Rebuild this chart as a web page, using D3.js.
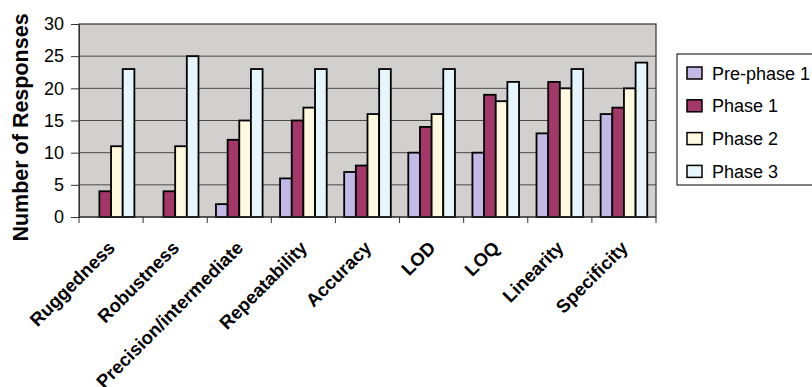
<!DOCTYPE html>
<html>
<head>
<meta charset="utf-8">
<script src="https://cdn.jsdelivr.net/npm/d3@7"></script>
<style>
  html, body { margin: 0; padding: 0; background: #fff; }
  svg { display: block; font-family: "Liberation Sans", Arial, sans-serif; }
</style>
</head>
<body>
<svg id="chart" width="812" height="387"></svg>
<script>
// Validation parameters and number of responses per survey phase
const categories = ["Ruggedness", "Robustness", "Precision/intermediate", "Repeatability",
                    "Accuracy", "LOD", "LOQ", "Linearity", "Specificity"];
const seriesNames = ["Pre-phase 1", "Phase 1", "Phase 2", "Phase 3"];
const prePhase1 = [0, 0, 2, 6, 7, 10, 10, 13, 16];
const phase1    = [4, 4, 12, 15, 8, 14, 19, 21, 17];
const phase2    = [11, 11, 15, 17, 16, 16, 18, 20, 20];
const phase3    = [23, 25, 23, 23, 23, 23, 21, 23, 24];
const yTicks    = [0, 5, 10, 15, 20, 25, 30];
const colors    = ["#c2b9e7", "#a3376a", "#fff9e0", "#e6f6fa"];

const seriesValues = [prePhase1, phase1, phase2, phase3];

const svg = d3.select("#chart");
const plot = { left: 79, right: 656, top: 24, bottom: 217 };

const x = d3.scaleBand().domain(categories).range([plot.left, plot.right]).paddingInner(0).paddingOuter(0);
const y = d3.scaleLinear().domain([0, 30]).range([plot.bottom, plot.top]);

// bars take 4 of 5.5 slots in each category (150% gap)
const slot = x.bandwidth() / 5.5;
const xs = d3.scaleBand().domain(d3.range(seriesNames.length))
  .range([0.75 * slot, 4.75 * slot]).padding(0);

// plot background
svg.append("rect")
  .attr("x", plot.left).attr("y", plot.top)
  .attr("width", plot.right - plot.left).attr("height", plot.bottom - plot.top)
  .attr("fill", "#d1d0cf").attr("stroke", "#333").attr("stroke-width", 1.2);

// horizontal gridlines
svg.append("g").selectAll("line").data(yTicks.filter(d => d > 0 && d < 30)).join("line")
  .attr("x1", plot.left).attr("x2", plot.right)
  .attr("y1", d => y(d)).attr("y2", d => y(d))
  .attr("stroke", "#4a4a4a").attr("stroke-width", 1);

// bars
const groups = svg.append("g").selectAll("g").data(categories).join("g")
  .attr("transform", d => `translate(${x(d)},0)`);
groups.selectAll("rect")
  .data((c, i) => seriesValues.map((vals, s) => ({ s, v: vals[i] })).filter(d => d.v > 0))
  .join("rect")
  .attr("x", d => xs(d.s))
  .attr("y", d => y(d.v))
  .attr("width", xs.bandwidth())
  .attr("height", d => y(0) - y(d.v))
  .attr("fill", d => colors[d.s])
  .attr("stroke", "#000").attr("stroke-width", 1.8);

// y axis
const yAxis = d3.axisLeft(y).tickValues(yTicks).tickSize(8).tickPadding(7);
const gy = svg.append("g").attr("transform", `translate(${plot.left},0)`).call(yAxis);
gy.select(".domain").attr("stroke", "#333");
gy.selectAll(".tick line").attr("stroke", "#333");
gy.selectAll(".tick text").attr("font-size", 18).attr("fill", "#000")
  .attr("font-family", "Liberation Sans, Arial, sans-serif");

// x axis with ticks at category boundaries
const gx = svg.append("g").attr("transform", `translate(0,${plot.bottom})`);
gx.append("line").attr("x1", plot.left).attr("x2", plot.right).attr("y1", 0).attr("y2", 0)
  .attr("stroke", "#333").attr("stroke-width", 1.2);
const bounds = categories.map(c => x(c)).concat([plot.right]);
gx.selectAll("line.tick").data(bounds).join("line").attr("class", "tick")
  .attr("x1", d => d).attr("x2", d => d).attr("y1", 0).attr("y2", 6)
  .attr("stroke", "#333");
gx.selectAll("text").data(categories).join("text")
  .attr("transform", d => `translate(${x(d) + x.bandwidth() / 2 + 5},${32}) rotate(-45)`)
  .attr("text-anchor", "end")
  .attr("font-size", 18.5).attr("font-weight", "bold")
  .text(d => d);

// y axis title
svg.append("text")
  .attr("transform", `translate(28,${(plot.top + plot.bottom) / 2 + 7}) rotate(-90)`)
  .attr("text-anchor", "middle")
  .attr("font-size", 21.5).attr("font-weight", "bold")
  .text("Number of Responses");

// legend
const lg = svg.append("g").attr("transform", "translate(677,54)");
lg.append("rect").attr("x", 0).attr("y", 0).attr("width", 160).attr("height", 131)
  .attr("fill", "#fff").attr("stroke", "#000").attr("stroke-width", 1);
const items = lg.selectAll("g").data(seriesNames).join("g")
  .attr("transform", (d, i) => `translate(0,${19 + i * 32.8})`);
items.append("rect").attr("x", 10).attr("y", -6).attr("width", 15).attr("height", 12)
  .attr("fill", (d, i) => colors[i]).attr("stroke", "#000").attr("stroke-width", 1.5);
items.append("text").attr("x", 35).attr("y", 6.5)
  .attr("font-size", 18).text(d => d);
</script>
</body>
</html>
